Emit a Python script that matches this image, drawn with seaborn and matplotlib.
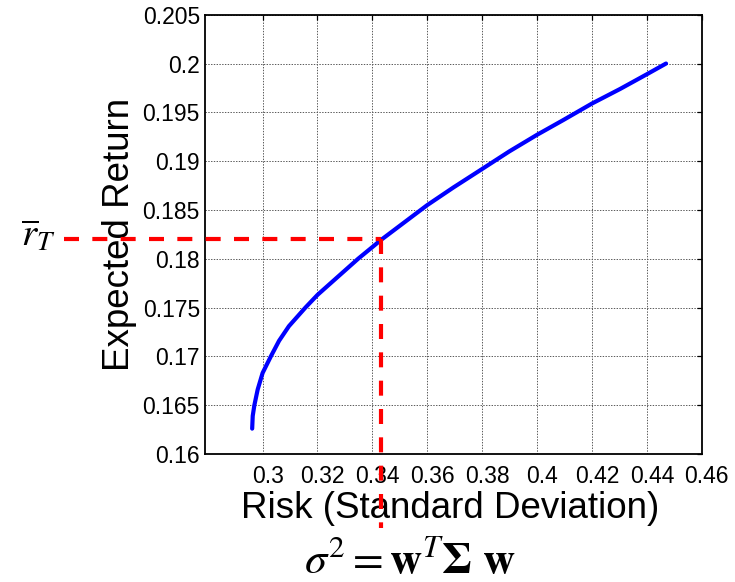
import numpy as np
import pandas as pd
import matplotlib
matplotlib.use("Agg")
import matplotlib.pyplot as plt
import matplotlib.transforms as mtransforms
import seaborn as sns

# Efficient frontier: portfolio risk (std. dev.) vs. expected return
risk = [0.2962, 0.2964, 0.2970, 0.2982, 0.3000, 0.3030, 0.3060, 0.3096,
        0.3156, 0.3200, 0.3264, 0.3348, 0.3400, 0.3430, 0.3515, 0.3600,
        0.3695, 0.3800, 0.3899, 0.4000, 0.4095, 0.4200, 0.4303, 0.4400,
        0.4470]
expected_return = [0.1626, 0.1639, 0.1650, 0.1666, 0.1683, 0.1700, 0.1716, 0.1731,
                   0.1750, 0.1763, 0.1779, 0.1800, 0.1812, 0.1819, 0.1837, 0.1855,
                   0.1873, 0.1892, 0.1910, 0.1927, 0.1942, 0.1959, 0.1974, 0.1989,
                   0.2000]

# Target return and the matching risk on the frontier
target_return = 0.182
target_risk = 0.343

x_ticks = [0.30, 0.32, 0.34, 0.36, 0.38, 0.40, 0.42, 0.44, 0.46]
y_ticks = [0.160, 0.165, 0.170, 0.175, 0.180, 0.185, 0.190, 0.195, 0.200, 0.205]
x_min, x_max = 0.2789, 0.46
y_min, y_max = 0.16, 0.205

df = pd.DataFrame({"risk": risk, "ret": expected_return})

sns.set_theme(style="white")
plt.rcParams["font.family"] = ["Liberation Sans", "DejaVu Sans"]
plt.rcParams["mathtext.fontset"] = "stix"
plt.rcParams["lines.scale_dashes"] = False

fig = plt.figure(figsize=(7.35, 5.82), dpi=100)
ax = fig.add_axes([0.2785, 0.2199, 0.6762, 0.7548])

sns.lineplot(data=df, x="risk", y="ret", sort=False, estimator=None,
             color=(0, 0, 1), linewidth=3.0, ax=ax, zorder=3)

ax.set_xlim(x_min, x_max)
ax.set_ylim(y_min, y_max)
ax.set_xticks(x_ticks)
ax.set_xticklabels([f"{v:g}" for v in x_ticks])
ax.set_yticks(y_ticks)
ax.set_yticklabels([f"{v:g}" for v in y_ticks])

ax.grid(True, color="0.35", linestyle=(0, (1, 1)), linewidth=0.7)
ax.set_axisbelow(True)
for sp in ax.spines.values():
    sp.set_color("black")
    sp.set_linewidth(1.3)
ax.tick_params(axis="both", which="both", direction="in", length=3.6, width=0.9,
               top=True, right=True, colors="black", labelsize=16.5)
ax.tick_params(axis="x", pad=8)
ax.tick_params(axis="y", pad=3.4)

# tick labels sit slightly right of their ticks
shift = mtransforms.ScaledTranslation(5 / 100, 0, fig.dpi_scale_trans)
for lbl in ax.get_xticklabels():
    lbl.set_transform(lbl.get_transform() + shift)

ax.set_xlabel("Risk (Standard Deviation)", fontsize=26.5, color="black")
ax.set_ylabel("Expected Return", fontsize=26.5, color="black")
ax.xaxis.set_label_coords(0.494, -0.085)
ax.yaxis.set_label_coords(-0.172, 0.5)
ax.yaxis.label.set_va("center")

# dashed guides from the target return to the frontier and down to the risk axis
red = (1, 0, 0)
dash = (0, (10.8, 9.6))
hx = mtransforms.blended_transform_factory(ax.transAxes, ax.transData)
ax.plot([-0.284, (target_risk - x_min) / (x_max - x_min)],
        [target_return, target_return], transform=hx, color=red,
        linewidth=3.0, linestyle=dash, clip_on=False, zorder=4)
vx = mtransforms.blended_transform_factory(ax.transData, ax.transAxes)
ax.plot([target_risk, target_risk],
        [(target_return - y_min) / (y_max - y_min), -0.168], transform=vx,
        color=red, linewidth=3.0, linestyle=dash, clip_on=False, zorder=4)

fig.text(0.028, 1 - 246 / 582, r"$\overline{r}_T$", fontsize=28, color="black",
         ha="left", va="baseline")
fig.text(410 / 735, 9 / 582, r"$\sigma^2 = \mathbf{w}^T \mathbf{\Sigma}\ \mathbf{w}$",
         fontsize=32, color="black", ha="center", va="baseline")

fig.savefig("out.png", dpi=100)
